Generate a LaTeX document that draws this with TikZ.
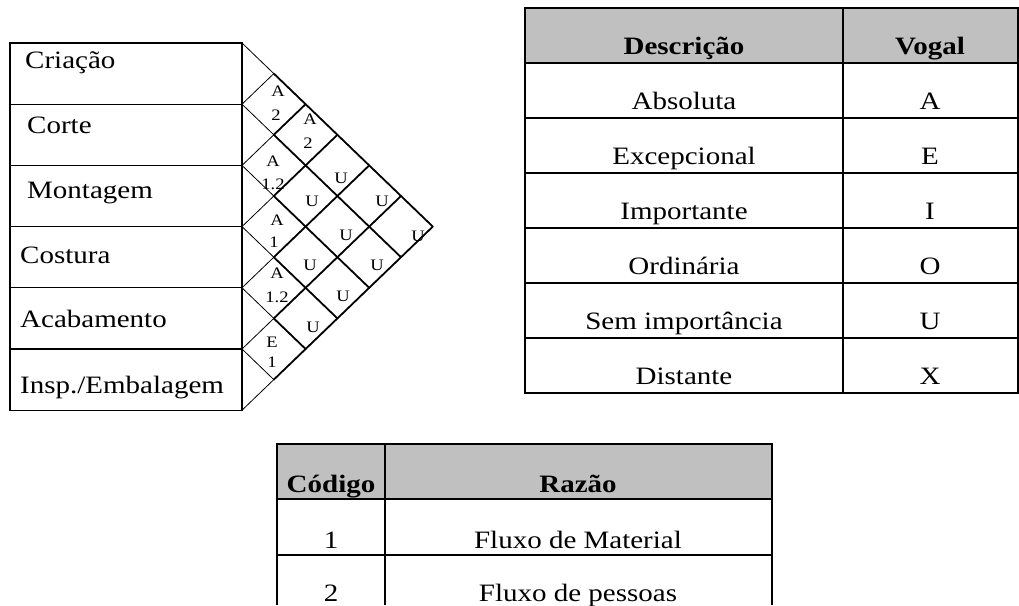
\documentclass[tikz,border=0pt]{standalone}
\usepackage{fontspec}
\setmainfont{Liberation Serif}[FakeStretch=1.16]
\definecolor{hdrgray}{HTML}{C0C0C0}
\begin{document}
\begin{tikzpicture}[x=1pt,y=-1pt,
  boxline/.style={line width=1.2pt},
  thinline/.style={line width=0.8pt},
  gridline/.style={line width=1.8pt, line cap=round},
  tabline/.style={line width=2pt},
  lbl/.style={font=\fontsize{25}{30}\selectfont, inner sep=0pt, anchor=base west},
  cell/.style={font=\fontsize{16}{18}\selectfont, inner sep=0pt},
  hdr/.style={font=\fontsize{25}{30}\selectfont\bfseries, inner sep=0pt, anchor=base},
  txt/.style={font=\fontsize{25}{30}\selectfont, inner sep=0pt, anchor=base}]
\useasboundingbox (0,0) rectangle (1019,605);

% ---------- relationship chart ----------
\foreach \i in {1,...,6} {
  \pgfmathsetmacro\rtop{43+61.2*(\i-1)}
  \pgfmathsetmacro\rbot{\rtop+61.2}
  \draw[boxline] (10,\rtop) rectangle (242,\rbot);
  \coordinate (t\i) at (242+31.8,\rtop+30.6);
  \draw[thinline] (242,\rtop) -- (t\i) -- (242,\rbot);
}
\draw[line width=1.6pt] (242,43) -- (242,410.2);

\foreach \i/\n in {1/5,2/4,3/3,4/2,5/1}
  \draw[gridline] (t\i) -- ++(\n*31.8,\n*30.6);
\foreach \i/\n in {2/1,3/2,4/3,5/4,6/5}
  \draw[gridline] (t\i) -- ++(\n*31.8,-\n*30.6);

\node[lbl] (criacao)  at (25,68)  {Criação};
\node[lbl] (corte)    at (27,133) {Corte};
\node[lbl] (montagem) at (27,198) {Montagem};
\node[lbl] (costura)  at (20,263) {Costura};
\node[lbl] (acab)     at (20,327) {Acabamento};
\node[lbl] (insp)     at (20,393) {Insp./Embalagem};

% cell labels
\node[cell] (c12a) at (278,91)  {A};
\node[cell] (c12b) at (276,115) {2};
\node[cell] (c23a) at (273,161) {A};
\node[cell] (c23b) at (273,184) {1.2};
\node[cell] (c34a) at (277,220) {A};
\node[cell] (c34b) at (274,242) {1};
\node[cell] (c45a) at (277,273) {A};
\node[cell] (c45b) at (277,297) {1.2};
\node[cell] (c56a) at (272,342) {E};
\node[cell] (c56b) at (272,362) {1};
\node[cell] (c13a) at (310,119) {A};
\node[cell] (c13b) at (308,143) {2};
\node[cell] (c24)  at (312,201) {U};
\node[cell] (c35)  at (310,265) {U};
\node[cell] (c46)  at (313,327) {U};
\node[cell] (c14)  at (341,178) {U};
\node[cell] (c25)  at (346,235) {U};
\node[cell] (c36)  at (343,296) {U};
\node[cell] (c15)  at (382,201) {U};
\node[cell] (c26)  at (377,265) {U};
\node[cell] (c16)  at (418,236) {U};

% ---------- right table ----------
\fill[hdrgray] (525,7.5) rectangle (1018,62.5);
\draw[tabline] (525,7.5) rectangle (1018,392.5);
\draw[tabline] (843,7.5) -- (843,392.5);
\foreach \y in {62.5,117.5,172.5,227.5,282.5,337.5}
  \draw[tabline] (525,\y) -- (1018,\y);
\node[hdr] (hdesc) at (684,54.5) {Descrição};
\node[hdr] (hvog)  at (930,54.5) {Vogal};
\foreach \k/\d/\v in {1/Absoluta/A,2/Excepcional/E,3/Importante/I,4/Ordinária/O,5/Sem importância/U,6/Distante/X} {
  \node[txt] (d\k) at (684,62.5+55*\k-8) {\d};
  \node[txt] (v\k) at (930,62.5+55*\k-8) {\v};
}

% ---------- lower table ----------
\fill[hdrgray] (277,444) rectangle (772,499);
\draw[tabline] (277,605) -- (277,444) -- (772,444) -- (772,605);
\draw[tabline] (385,444) -- (385,605);
\draw[tabline] (277,499) -- (772,499);
\draw[tabline] (277,555) -- (772,555);
\node[hdr] (hcod) at (331,492) {Código};
\node[hdr] (hraz) at (578,492) {Razão};
\node[txt] (r1c) at (331,548) {1};
\node[txt] (r1t) at (578,548) {Fluxo de Material};
\node[txt] (r2c) at (331,601) {2};
\node[txt] (r2t) at (578,601) {Fluxo de pessoas};
\end{tikzpicture}
\end{document}
